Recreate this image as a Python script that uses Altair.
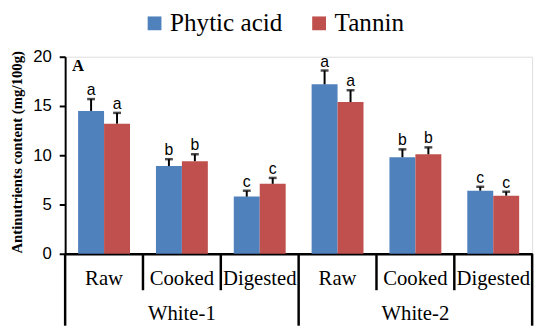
import altair as alt
import pandas as pd

groups = ["White-1", "White-2"]
stages = ["Raw", "Cooked", "Digested"]
series = ["Phytic acid", "Tannin"]
colors = ["#4F81BD", "#C0504D"]

phytic = [14.5, 8.9, 5.8, 17.2, 9.8, 6.4]
phytic_err = [1.2, 0.7, 0.6, 1.4, 0.8, 0.4]
phytic_letters = ["a", "b", "c", "a", "b", "c"]
tannin = [13.2, 9.4, 7.1, 15.4, 10.1, 5.9]
tannin_err = [1.1, 0.7, 0.6, 1.2, 0.7, 0.4]
tannin_letters = ["a", "b", "c", "a", "b", "c"]

y_ticks = [0, 5, 10, 15, 20]
y_title = "Antinutrients content (mg/100g)"
panel_label = "A"

keys = [f"{g}|{s}" for g in groups for s in stages]

rows = []
for i, k in enumerate(keys):
    rows.append(dict(key=k, series=series[0], value=phytic[i],
                     top=phytic[i] + phytic_err[i], letter=phytic_letters[i]))
    rows.append(dict(key=k, series=series[1], value=tannin[i],
                     top=tannin[i] + tannin_err[i], letter=tannin_letters[i]))
df = pd.DataFrame(rows)

stage_df = pd.DataFrame([dict(key=f"{g}|{s}", label=s) for g in groups for s in stages])
group_df = pd.DataFrame([dict(key=f"{g}|{stages[1]}", label=g) for g in groups])
minor_df = pd.DataFrame([dict(key=f"{g}|{s}") for g in groups for s in stages[1:]])
major_df = pd.DataFrame([dict(key=f"{g}|{stages[0]}") for g in groups])
end_df = pd.DataFrame([dict(key=keys[-1])])
one = pd.DataFrame([dict(t=panel_label, yt=y_title)])

W, H = 474, 200
SERIF = "Liberation Serif, Times New Roman, serif"
SANS = "Liberation Sans, Arial, sans-serif"

xscale = alt.Scale(domain=keys, paddingInner=0, paddingOuter=0)
xaxis = alt.Axis(labels=False, ticks=False, title=None, domainColor="black",
                 domainWidth=2.5, grid=False)
xoff = alt.XOffset("series:N", sort=series,
                   scale=alt.Scale(paddingInner=0, paddingOuter=0.5))
yscale = alt.Scale(domain=[0, 20], nice=False)

base = alt.Chart(df)

bars = base.mark_bar().encode(
    x=alt.X("key:N", sort=keys, scale=xscale, axis=xaxis),
    xOffset=xoff,
    y=alt.Y("value:Q", scale=yscale,
            axis=alt.Axis(values=y_ticks, title=None, domainColor="black",
                          domainWidth=2, tickColor="black", tickWidth=2,
                          tickSize=6, labelFont=SANS,
                          labelFontSize=17, labelColor="black",
                          labelPadding=8, grid=False)),
    color=alt.Color("series:N", sort=series,
                    scale=alt.Scale(domain=series, range=colors),
                    legend=alt.Legend(title=None, orient="none",
                                      direction="horizontal", legendX=78,
                                      legendY=-47, symbolType="square",
                                      symbolSize=196, symbolStrokeWidth=0,
                                      labelFont=SERIF,
                                      labelFontSize=25.5, labelColor="black",
                                      labelOffset=3, columnPadding=24)),
)

err = base.mark_rule(color="black", strokeWidth=2).encode(
    x=alt.X("key:N", sort=keys, scale=xscale, axis=xaxis),
    xOffset=xoff,
    y=alt.Y("value:Q", scale=yscale),
    y2="top:Q",
)

caps = base.mark_tick(color="black", size=8, thickness=2.5).encode(
    x=alt.X("key:N", sort=keys, scale=xscale, axis=xaxis),
    xOffset=xoff,
    y=alt.Y("top:Q", scale=yscale),
)

letters = base.mark_text(font=SANS, fontSize=16, color="black",
                         baseline="alphabetic", dy=-4).encode(
    x=alt.X("key:N", sort=keys, scale=xscale, axis=xaxis),
    xOffset=xoff,
    y=alt.Y("top:Q", scale=yscale),
    text="letter:N",
)

stage_text = alt.Chart(stage_df).mark_text(
    font=SERIF, fontSize=21, color="black", baseline="alphabetic"
).encode(
    x=alt.X("key:N", sort=keys, scale=xscale, axis=xaxis),
    y=alt.value(232),
    text="label:N",
)

group_text = alt.Chart(group_df).mark_text(
    font=SERIF, fontSize=21, color="black", baseline="alphabetic"
).encode(
    x=alt.X("key:N", sort=keys, scale=xscale, axis=xaxis),
    y=alt.value(267),
    text="label:N",
)

minor = alt.Chart(minor_df).mark_rule(color="black", strokeWidth=2.5).encode(
    x=alt.X("key:N", sort=keys, scale=xscale, axis=xaxis, bandPosition=0),
    y=alt.value(H), y2=alt.value(H + 37),
)
major = alt.Chart(major_df).mark_rule(color="black", strokeWidth=2.5).encode(
    x=alt.X("key:N", sort=keys, scale=xscale, axis=xaxis, bandPosition=0),
    y=alt.value(H), y2=alt.value(H + 73),
)
end = alt.Chart(end_df).mark_rule(color="black", strokeWidth=2.5).encode(
    x=alt.X("key:N", sort=keys, scale=xscale, axis=xaxis, bandPosition=1),
    y=alt.value(H), y2=alt.value(H + 73),
)

ptext = alt.Chart(one).mark_text(
    font=SERIF, fontSize=17, fontWeight="bold", color="black",
    align="left", baseline="alphabetic"
).encode(x=alt.value(7), y=alt.value(15), text="t:N")

ytitle = alt.Chart(one).mark_text(
    font=SERIF, fontSize=15, fontWeight="bold", color="black",
    angle=270, align="center", baseline="middle"
).encode(x=alt.value(-49), y=alt.value(97), text="yt:N")

chart = alt.layer(
    bars, err, caps, letters, stage_text, group_text, minor, major, end,
    ptext, ytitle
).properties(
    width=W, height=H,
    autosize=alt.AutoSizeParams(type="none"),
    padding={"left": 58, "top": 47, "right": 10, "bottom": 80},
).configure_view(stroke=None).configure(background="white")

chart.save("out.html", embed_options={"renderer": "svg", "actions": False})
